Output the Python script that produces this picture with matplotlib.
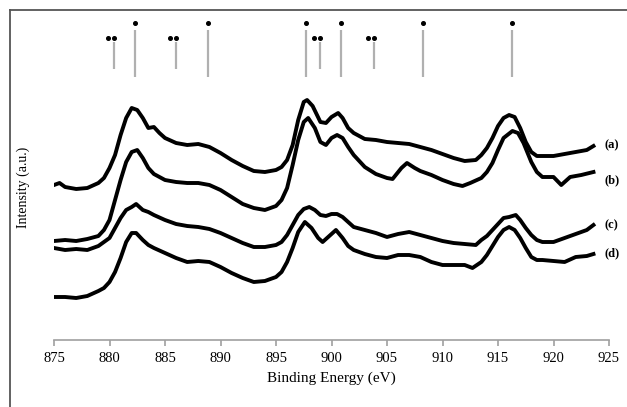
import numpy as np
import matplotlib.pyplot as plt
from matplotlib.lines import Line2D

plt.rcParams['font.family'] = ['Liberation Serif', 'DejaVu Serif']

# spectra: binding energy (eV) and intensity (a.u.)
energy_a = [875, 875.5, 876, 877, 878, 879, 879.5, 880, 880.5, 881, 881.5, 882, 882.5, 883, 883.5,
            884, 884.5, 885, 886, 887, 888, 889, 890, 891, 892, 893, 894, 895, 895.5, 896, 896.5,
            897, 897.5, 897.8, 898.3, 899, 899.5, 900, 900.6, 901, 901.5, 902, 903, 904, 905, 906,
            907, 908, 909, 910, 911, 912, 913, 913.5, 914, 914.5, 915, 915.5, 916, 916.5, 917,
            917.5, 918, 918.5, 919, 920, 921, 922, 923, 923.6]
inten_a = [155, 157, 153, 151, 152, 157, 162, 172, 185, 205, 222, 232, 230, 222, 212,
           213, 207, 202, 197, 195, 196, 193, 187, 180, 174, 169, 168, 170, 173, 180, 195,
           220, 238, 240, 234, 218, 217, 223, 227, 222, 212, 207, 201, 200, 198, 197,
           196, 193, 190, 186, 182, 179, 180, 185, 192, 202, 214, 222, 225, 223, 212,
           198, 188, 184, 184, 184, 186, 188, 190, 194]

energy_b = [875, 876, 877, 878, 879, 879.5, 880, 880.5, 881, 881.5, 882, 882.5, 883, 883.5, 884,
            885, 886, 887, 888, 889, 890, 891, 892, 893, 894, 895, 895.5, 896, 896.5, 897, 897.5,
            897.9, 898.5, 899, 899.5, 900, 900.5, 901, 901.5, 902, 903, 904, 905, 905.5, 906.3,
            906.8, 907.5, 908, 909, 910, 911, 911.8, 912.5, 913.5, 914, 914.5, 915, 915.5, 916.3,
            916.8, 917.3, 918, 918.5, 919, 920, 920.7, 921.5, 922.5, 923.6]
inten_b = [99, 100, 99, 101, 104, 110, 120, 140, 160, 178, 188, 190, 182, 172, 166,
           160, 158, 157, 157, 155, 150, 143, 136, 132, 130, 134, 140, 152, 175, 200, 218,
           222, 212, 198, 195, 202, 205, 202, 193, 185, 173, 166, 162, 161, 172,
           177, 172, 169, 165, 160, 156, 154, 157, 162, 168, 177, 190, 202, 209,
           207, 197, 178, 168, 163, 163, 155, 163, 165, 168]

energy_c = [875, 876, 877, 878, 879, 880, 880.5, 881, 881.5, 882, 882.4, 883, 883.5, 884, 885,
            886, 887, 888, 889, 890, 891, 892, 893, 894, 895, 895.5, 896, 896.5, 897, 897.5,
            898, 898.5, 899, 899.5, 900, 900.5, 901, 901.5, 902, 903, 904, 905, 906, 907, 908,
            909, 910, 911, 912, 913, 913.5, 914, 914.5, 915, 915.5, 916, 916.6, 917, 917.5,
            918, 918.5, 919, 920, 921, 922, 923, 923.6]
inten_c = [92, 90, 91, 90, 94, 102, 112, 122, 130, 133, 136, 130, 128, 125, 120,
           116, 114, 113, 111, 107, 102, 97, 93, 93, 95, 98, 105, 115, 125, 131,
           133, 130, 125, 124, 126, 126, 123, 118, 113, 110, 107, 103, 106, 108, 105,
           102, 99, 97, 96, 95, 100, 104, 110, 116, 122, 123, 125, 120, 112,
           105, 100, 98, 98, 102, 106, 110, 115]

energy_d = [875, 876, 877, 878, 879, 879.5, 880, 880.5, 881, 881.5, 882, 882.4, 883, 883.5, 884,
            885, 886, 887, 888, 889, 890, 891, 892, 893, 894, 895, 895.5, 896, 896.5, 897, 897.6,
            898.2, 898.8, 899.2, 900, 900.4, 901, 901.5, 902, 903, 904, 905, 906, 907, 908, 909,
            910, 911, 912, 912.7, 913.5, 914, 914.5, 915, 915.5, 916, 916.5, 917, 917.5, 918,
            918.5, 919, 920, 921, 922, 923, 923.6]
inten_d = [43, 43, 42, 44, 49, 52, 58, 68, 82, 98, 107, 107, 100, 95, 92,
           87, 82, 78, 79, 78, 73, 67, 62, 58, 59, 63, 68, 78, 92, 108, 118,
           112, 102, 98, 106, 110, 102, 94, 90, 86, 83, 82, 85, 85, 83, 78,
           75, 75, 75, 72, 78, 85, 94, 103, 110, 113, 110, 102, 92, 83,
           80, 80, 79, 78, 83, 84, 86]

series_labels = ['(a)', '(b)', '(c)', '(d)']
label_y = [195, 160, 115, 87]

# reference peak positions: * and ** satellites
single_pos = [882.3, 888.9, 897.7, 900.9, 908.2, 916.3]
double_pos = [880.4, 886.0, 899.0, 903.8]

fig = plt.figure(figsize=(6.27, 4.07), dpi=100)
ax = fig.add_axes([54 / 627, 67 / 407, 555 / 627, 325 / 407])

curves = [(energy_a, inten_a), (energy_b, inten_b), (energy_c, inten_c), (energy_d, inten_d)]
for (e, i), lab, ly in zip(curves, series_labels, label_y):
    ax.plot(e, i, color='black', lw=2.8, solid_joinstyle='round')
    ax.text(924.6, ly, lab, ha='left', va='center', fontsize=9, fontweight='bold')

# marker sticks
ax.vlines(single_pos, 263, 310, color='#b0b0b0', lw=1.6)
ax.plot(single_pos, [317] * len(single_pos), 'o', color='black', ms=2.6)
ax.vlines(double_pos, 271, 298, color='#b0b0b0', lw=1.6)
dp = np.array(double_pos)
ax.plot(np.concatenate([dp - 0.55, dp]), [302] * (2 * len(dp)), 'o', color='black', ms=2.6)

ax.set_xlim(875, 925)
ax.set_ylim(0, 325)
ax.set_xticks(np.arange(875, 926, 5))
ax.set_yticks([])
for s in ['top', 'right', 'left']:
    ax.spines[s].set_visible(False)
ax.spines['bottom'].set_color('#a0a0a0')
ax.spines['bottom'].set_linewidth(1.2)
ax.tick_params(axis='x', direction='out', length=4, width=1.2, color='#a0a0a0',
               labelsize=10.5, pad=5)
ax.set_xlabel('Binding Energy (eV)', fontsize=11, labelpad=4)
ax.set_ylabel('Intensity (a.u.)', fontsize=10)
ax.yaxis.set_label_coords(-0.043, 0.47)

# chart border
fig.add_artist(Line2D([10 / 627, 10 / 627], [0, 397 / 407], color='#555555', lw=1.3))
fig.add_artist(Line2D([10 / 627, 1], [397 / 407, 397 / 407], color='#555555', lw=1.3))

fig.savefig('out.png', dpi=100)
